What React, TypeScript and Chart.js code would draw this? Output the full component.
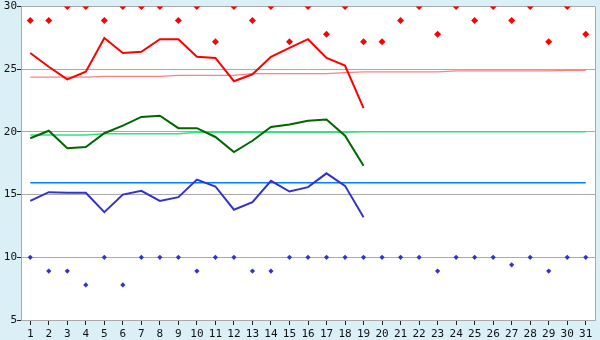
import React, { useEffect, useRef } from "react";
import { Chart, registerables } from "chart.js";

Chart.register(...registerables);

const days = ["1","2","3","4","5","6","7","8","9","10","11","12","13","14","15","16","17","18","19","20","21","22","23","24","25","26","27","28","29","30","31"];

const maxTemps = [28.9,28.9,30,30,28.9,30,30,30,28.9,30,27.2,30,28.9,30,27.2,30,27.8,30,27.2,27.2,28.9,30,27.8,30,28.9,30,28.9,30,27.2,30,27.8];
const minTemps = [10,8.9,8.9,7.8,10,7.8,10,10,10,8.9,10,10,8.9,8.9,10,10,10,10,10,10,10,10,8.9,10,10,10,9.4,10,8.9,10,10];

const avgHigh = [26.3,25.2,24.2,24.8,27.5,26.3,26.4,27.4,27.4,26.0,25.9,24.05,24.6,26.0,26.7,27.4,25.9,25.3,21.9];
const avgMean = [19.5,20.1,18.7,18.8,19.9,20.5,21.2,21.3,20.3,20.3,19.6,18.4,19.3,20.4,20.6,20.9,21.0,19.7,17.3];
const avgLow = [14.5,15.2,15.15,15.15,13.6,15.0,15.3,14.5,14.8,16.2,15.65,13.8,14.4,16.1,15.25,15.6,16.7,15.7,13.2];

const normHigh = [24.37,24.37,24.37,24.37,24.44,24.44,24.44,24.44,24.52,24.52,24.52,24.52,24.65,24.65,24.65,24.65,24.65,24.73,24.8,24.8,24.8,24.8,24.8,24.87,24.87,24.87,24.87,24.87,24.87,24.92,24.92];
const normMean = [19.75,19.75,19.75,19.75,19.86,19.86,19.86,19.86,19.86,19.97,19.97,19.97,19.97,19.97,19.97,19.97,19.97,19.97,20.02,20.02,20.02,20.02,20.02,20.02,20.02,20.02,20.02,20.02,20.02,20.02,20.02];
const normLow = [15.95,15.95,15.95,15.95,15.95,15.95,15.95,15.95,15.95,15.95,15.95,15.95,15.95,15.95,15.95,15.95,15.95,15.95,15.95,15.95,15.95,15.95,15.95,15.95,15.95,15.95,15.95,15.95,15.95,15.95,15.95];

const yTicks = [5, 10, 15, 20, 25, 30];

const bgPlugin = {
  id: "bgPlugin",
  beforeDraw(chart: any) {
    const { ctx, chartArea } = chart;
    ctx.save();
    ctx.fillStyle = "#daeff6";
    ctx.fillRect(0, 0, chart.width, chart.height);
    ctx.fillStyle = "#ffffff";
    ctx.fillRect(chartArea.left, chartArea.top, chartArea.right - chartArea.left, chartArea.bottom - chartArea.top);
    ctx.restore();
  },
  afterDraw(chart: any) {
    const { ctx, chartArea } = chart;
    ctx.save();
    ctx.strokeStyle = "#aaaaaa";
    ctx.lineWidth = 1;
    ctx.beginPath();
    const x = Math.round(chartArea.right) + 0.5;
    ctx.moveTo(x, chartArea.top);
    ctx.lineTo(x, chartArea.bottom);
    ctx.stroke();
    ctx.restore();
  },
};

export default function App() {
  const ref = useRef<HTMLCanvasElement | null>(null);
  useEffect(() => {
    document.body.style.margin = "0";
    const canvas = ref.current;
    if (!canvas) return;
    const line = (data: number[], color: string, width: number) => ({
      type: "line" as const,
      data,
      borderColor: color,
      backgroundColor: color,
      borderWidth: width,
      pointRadius: 0,
      tension: 0,
      fill: false,
    });
    const pts = (data: number[], color: string, r: number) => ({
      type: "line" as const,
      data,
      showLine: false,
      borderColor: color,
      backgroundColor: color,
      pointStyle: "rectRot",
      pointRadius: r,
      pointBorderWidth: 0,
      pointHoverRadius: r,
    });
    const chart = new Chart(canvas, {
      type: "line",
      data: {
        labels: days,
        datasets: [
          pts(maxTemps, "#ff0000", 3.5),
          pts(minTemps, "#3333cc", 2.6),
          line(avgHigh, "#ff0000", 2),
          line(avgMean, "#006600", 2),
          line(avgLow, "#3333cc", 2),
          line(normHigh, "#ff8080", 1.2),
          line(normMean, "#33e080", 1.5),
          line(normLow, "#0080ff", 1.5),
        ] as any,
      },
      plugins: [bgPlugin],
      options: {
        responsive: false,
        animation: false,
        events: [],
        layout: { padding: { top: 5, right: 5, left: 0, bottom: 0 } },
        plugins: { legend: { display: false }, tooltip: { enabled: false } },
        font: { family: "DejaVu Sans Mono", size: 11 },
        scales: {
          x: {
            type: "category",
            offset: true,
            grid: {
              display: true,
              drawOnChartArea: false,
              drawTicks: true,
              tickLength: 5,
              offset: false,
              color: "#222222",
              lineWidth: 1,
            },
            border: { display: true, color: "#aaaaaa" },
            ticks: {
              color: "#111111",
              padding: 3,
              maxRotation: 0,
              autoSkip: false,
              font: { family: "DejaVu Sans Mono", size: 11 },
            },
            afterFit(scale: any) {
              scale.height = 20;
            },
          },
          y: {
            type: "linear",
            min: 5,
            max: 30,
            afterBuildTicks(scale: any) {
              scale.ticks = yTicks.map((v) => ({ value: v }));
            },
            grid: {
              color: "#aaaaaa",
              lineWidth: 1,
              drawTicks: true,
              tickLength: 4,
              tickColor: "#222222",
            },
            border: { display: true, color: "#aaaaaa" },
            ticks: {
              color: "#111111",
              padding: 0,
              font: { family: "DejaVu Sans Mono", size: 11 },
            },
            afterFit(scale: any) {
              scale.width = 21;
            },
          },
        },
      } as any,
    });
    return () => chart.destroy();
  }, []);
  return (
    <div style={{ width: 600, height: 340 }}>
      <canvas ref={ref} width={600} height={340} style={{ display: "block" }} />
    </div>
  );
}
